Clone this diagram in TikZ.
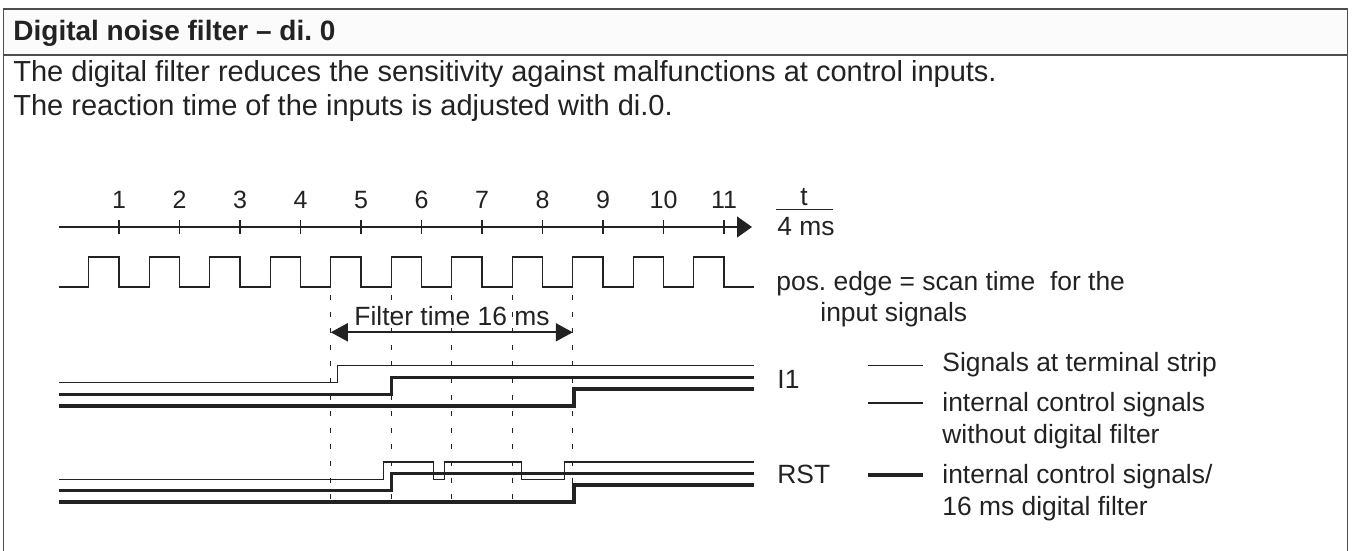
\documentclass[tikz,border=0pt]{standalone}
\usepackage{fontspec}
\setmainfont{Liberation Sans}
\frenchspacing
\usetikzlibrary{arrows.meta}
\definecolor{ink}{HTML}{222222}
\definecolor{rule}{HTML}{4D4D4D}
\definecolor{headbg}{HTML}{FBFBFB}

\begin{document}
\begin{tikzpicture}[
  x=0.5pt, y=-0.5pt,
  txt/.style={inner sep=0pt, anchor=base west, text=ink, font=\fontsize{13.2}{15}\selectfont},
  num/.style={inner sep=0pt, anchor=base, text=ink, font=\fontsize{12.5}{14}\selectfont},
  wave/.style={draw=ink, line width=0.65pt},
  sigthin/.style={draw=ink, line width=0.65pt},
  sigmid/.style={draw=ink, line width=1.2pt},
  sigthick/.style={draw=ink, line width=1.8pt},
  scanline/.style={draw=ink, line width=0.6pt, dash pattern=on 2.5pt off 5.8pt},
  timearrow/.style={draw=ink, line width=0.65pt, -{Triangle[length=7.5pt,width=10.5pt]}},
  spanarrow/.style={draw=ink, line width=1pt, {Triangle[length=8.5pt,width=9pt]}-{Triangle[length=8.5pt,width=9pt]}}
]
\useasboundingbox (0,0) rectangle (1354,551);
\fill[headbg] (3.5,9) rectangle (1347.5,55);
\draw[rule, line width=0.9pt] (3.5,551) -- (3.5,9) -- (1347.5,9) -- (1347.5,551);
\draw[rule, line width=0.9pt] (3.5,55) -- (1347.5,55);

\node[txt, font=\bfseries\fontsize{14}{16}\selectfont] (title) at (13,40.7) {Digital noise filter – di. 0};
\node[txt, font=\fontsize{14.5}{17}\selectfont] (intro1) at (13,82) {The digital filter reduces the sensitivity against malfunctions at control inputs.};
\node[txt, font=\fontsize{14.5}{17}\selectfont] (intro2) at (13,115.5) {The reaction time of the inputs is adjusted with di.0.};

\coordinate (axstart) at (59,227);
\coordinate (axend) at (752,227);
\draw[timearrow] (axstart) -- (axend);
\foreach \n in {1,...,11} {
  \draw[ink, line width=0.65pt] ({58.5+60.5*\n},220) -- ({58.5+60.5*\n},234);
  \node[num] (n\n) at ({58.5+60.5*\n},208) {\n};
}
\node[txt, anchor=base] (tvar) at (804,205) {t};
\draw[ink, line width=0.65pt] (776,209.3) -- (833,209.3);
\node[txt] (tunit) at (777,235) {4 ms};

\draw[wave] (59,287) \foreach \n in {1,...,11} {
  -- ({28.25+60.5*\n},287) -- ({28.25+60.5*\n},257) -- ({58.5+60.5*\n},257) -- ({58.5+60.5*\n},287)
} -- (754,287);
\node[txt] (scan1) at (776,290) {pos. edge = scan time \ for the};
\node[txt] (scan2) at (820,321.7) {input signals};

\foreach \n in {5,...,9}
  \draw[scanline] ({28.25+60.5*\n},295) -- ({28.25+60.5*\n},507);
\coordinate (fa) at (330.75,332.3);
\coordinate (fb) at (572.75,332.3);
\draw[spanarrow] (fa) -- (fb);
\node[txt, anchor=base] (ftime) at (452,325) {Filter time 16 ms};

\draw[sigthin] (59,382.7) -- (337.7,382.7) -- (337.7,365.7) -- (754,365.7);
\draw[sigmid] (59,394.3) -- (391.5,394.3) -- (391.5,377.3) -- (754,377.3);
\draw[sigthick] (59,406) -- (574,406) -- (574,388.7) -- (754,388.7);
\node[txt] (iname) at (777,388) {I1};

\draw[sigthin] (59,479.5) -- (383.3,479.5) -- (383.3,462) -- (433.7,462) -- (433.7,479.5) -- (444.3,479.5) -- (444.3,462)
  -- (521.3,462) -- (521.3,479.5) -- (564.7,479.5) -- (564.7,462) -- (754,462);
\draw[sigmid] (59,490.3) -- (391.5,490.3) -- (391.5,473.3) -- (754,473.3);
\draw[sigthick] (59,502) -- (574,502) -- (574,484.7) -- (754,484.7);
\node[txt] (rname) at (777,483) {RST};

\draw[sigthin] (868,365.7) -- (923,365.7);
\node[txt] (leg1) at (942,371.7) {Signals at terminal strip};
\draw[sigmid] (868,402.7) -- (923,402.7);
\node[txt] (leg2) at (942,411) {internal control signals};
\node[txt] (leg2b) at (942,443) {without digital filter};
\draw[sigthick] (868,475) -- (923,475);
\node[txt] (leg3) at (942,483) {internal control signals/};
\node[txt] (leg3b) at (942,515) {16 ms digital filter};
\end{tikzpicture}
\end{document}
